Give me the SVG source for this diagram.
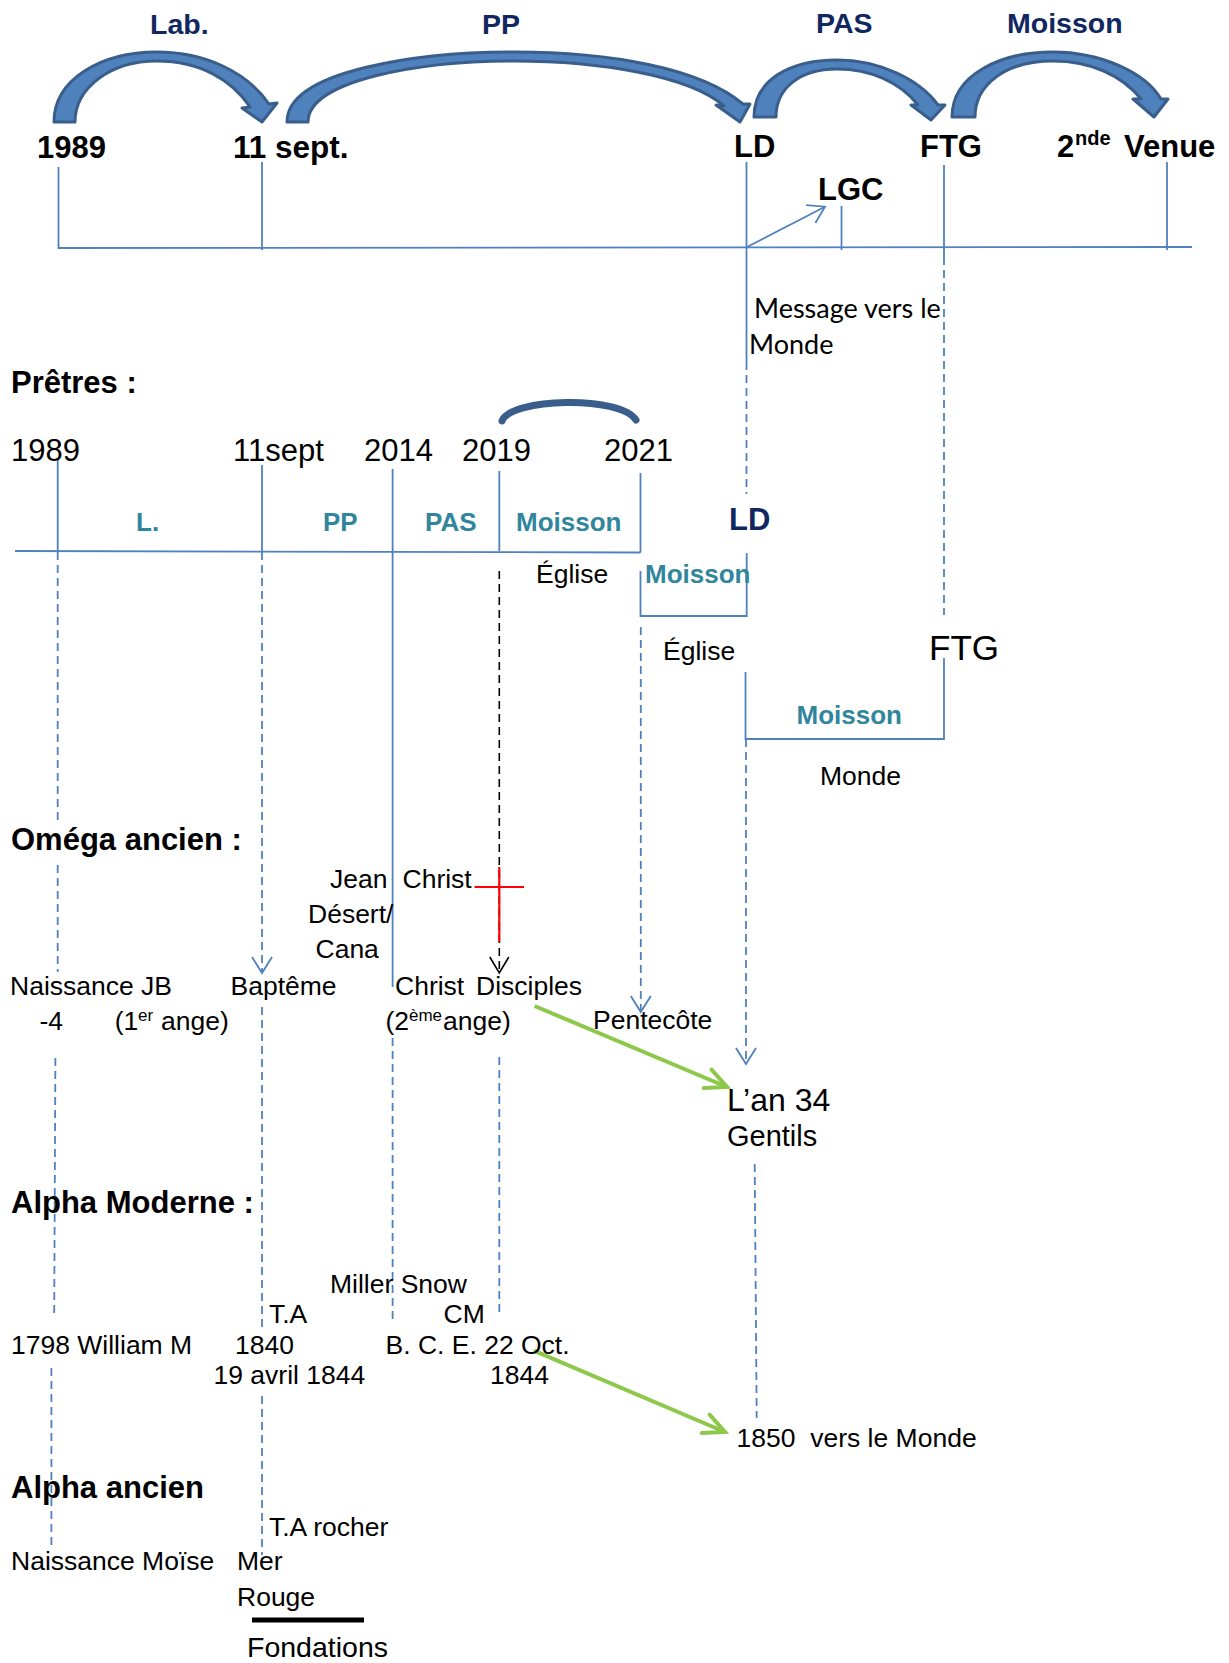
<svg xmlns="http://www.w3.org/2000/svg" width="1229" height="1663" viewBox="0 0 1229 1663">
<style>
text{font-family:"Liberation Sans",Arial,sans-serif;fill:#000;font-size:26.5px}
.h{font-weight:bold;font-size:31px}
.nv{fill:#10285F;font-weight:bold;font-size:28.5px}
.tl{fill:#31859C;font-weight:bold;font-size:26px}
.yr{font-size:31px}
.big{font-size:35px}
.sup{font-size:17px}
.cal{font-family:Lato,"Open Sans",sans-serif;font-size:27px}
.ax{stroke:#4F81BD;stroke-width:1.8;fill:none}
.ds{stroke:#4F81BD;stroke-width:1.8;fill:none;stroke-dasharray:8 5}
.kd{stroke:#000;stroke-width:1.6;fill:none;stroke-dasharray:8 5}
.ba{fill:#4F81BD;stroke:#3A5E8C;stroke-width:3;stroke-linejoin:round}
.gr{stroke:#8DC84A;stroke-width:4;fill:none}
</style>
<defs>
<marker id="vb" markerUnits="userSpaceOnUse" viewBox="-20 -12 22 24" refX="0" refY="0" markerWidth="22" markerHeight="24" orient="auto"><path d="M-16,-10 L0,0 L-16,10" fill="none" stroke="#4F81BD" stroke-width="1.8" stroke-dasharray="none"/></marker>
<marker id="vk" markerUnits="userSpaceOnUse" viewBox="-20 -12 22 24" refX="0" refY="0" markerWidth="22" markerHeight="24" orient="auto"><path d="M-16,-9.5 L0,0 L-16,9.5" fill="none" stroke="#000" stroke-width="1.6" stroke-dasharray="none"/></marker>
<marker id="vg" markerUnits="userSpaceOnUse" viewBox="-26 -14 30 28" refX="0" refY="0" markerWidth="30" markerHeight="28" orient="auto"><path d="M-21,-10 L0,0 L-21,10" fill="none" stroke="#8DC84A" stroke-width="4" stroke-linecap="round"/></marker>
</defs>

<g id="block-arrows">
<path class="ba" d="M54,122 C54,80 100,52 157,52 C205,52 247,72 269,104 L277,103 L262,122 L242,108 L250,107 C232,80 200,61 157,61 C110,61 75,88 75,122 Z"/>
<path class="ba" d="M287,122 C287,70 420,52 514,52 C610,52 700,68 743,104 L750,104 L740,122 L716,105 L724,106 C690,76 600,61 514,61 C420,61 308,80 308,122 Z"/>
<path class="ba" d="M754,117 C754,80 790,60 837,60 C880,60 920,80 938,105 L945,105 L931,120 L911,105 L918,105 C900,82 870,69 837,69 C800,69 776,88 776,117 Z"/>
<path class="ba" d="M952,117 C952,75 1000,52 1053,52 C1100,52 1145,72 1161,99 L1168,99 L1154,117 L1133,99 L1141,99 C1122,75 1090,61 1053,61 C1005,61 975,85 975,117 Z"/>
<path d="M502,421 C510,398 620,395 636,420" fill="none" stroke="#3A5E8C" stroke-width="7" stroke-linecap="round"/>
</g>

<g id="connectors">
<path class="ax" d="M58.5,167 V248 L1192,247"/>
<line class="ax" x1="262" y1="162" x2="262" y2="250"/>
<line class="ax" x1="746.5" y1="162" x2="746.5" y2="362"/>
<line class="ds" x1="746.5" y1="362" x2="746.5" y2="494"/>
<line class="ax" x1="841.5" y1="206" x2="841.5" y2="250"/>
<line class="ax" x1="944" y1="165" x2="944" y2="257"/>
<line class="ds" x1="944" y1="257" x2="944" y2="615"/>
<line class="ax" x1="1167" y1="162" x2="1167" y2="250"/>
<line class="ax" x1="746.5" y1="247.3" x2="825" y2="206.7" marker-end="url(#vb)"/>
<line class="ax" x1="15" y1="551" x2="640.5" y2="552.5"/>
<line class="ax" x1="57.7" y1="458" x2="57.7" y2="552"/>
<line class="ax" x1="262" y1="465" x2="262" y2="552"/>
<line class="ax" x1="392.6" y1="469" x2="392.6" y2="987"/>
<line class="ax" x1="499.3" y1="471" x2="499.3" y2="551"/>
<line class="ax" x1="640.5" y1="473" x2="640.5" y2="552.5"/>
<path class="ax" d="M640.5,571 V616 H746.7 V553"/>
<path class="ax" d="M745.5,672 V739 H944 V658"/>
<line class="ds" x1="57.7" y1="552" x2="57.7" y2="822"/>
<line class="ds" x1="57.7" y1="865" x2="57.7" y2="972"/>
<line class="ds" x1="55.4" y1="1058" x2="54.2" y2="1313"/>
<line class="ds" x1="51.4" y1="1368" x2="51.4" y2="1550"/>
<line class="ds" x1="262" y1="552" x2="262" y2="973" marker-end="url(#vb)"/>
<line class="ds" x1="262" y1="1007" x2="262" y2="1327"/>
<line class="ds" x1="262" y1="1396" x2="262" y2="1555"/>
<line class="ds" x1="392.6" y1="1038" x2="392.6" y2="1320"/>
<line class="kd" x1="499.3" y1="571" x2="499.3" y2="973" marker-end="url(#vk)"/>
<line class="ds" x1="499.3" y1="1057" x2="499.3" y2="1317"/>
<line class="ds" x1="640.8" y1="627" x2="640.8" y2="1012" marker-end="url(#vb)"/>
<line class="ds" x1="746" y1="739" x2="746" y2="1064" marker-end="url(#vb)"/>
<line class="ds" x1="754.7" y1="1164" x2="756.7" y2="1418"/>
<line x1="499.3" y1="867" x2="499.3" y2="942" stroke="#FF0000" stroke-width="2.2"/>
<line x1="474.5" y1="887" x2="524" y2="887" stroke="#FF0000" stroke-width="2.2"/>
<line class="gr" x1="534.6" y1="1006" x2="727" y2="1087" marker-end="url(#vg)"/>
<line class="gr" x1="533.8" y1="1350.7" x2="725" y2="1432" marker-end="url(#vg)"/>
<line x1="252" y1="1620" x2="364" y2="1620" stroke="#000" stroke-width="5"/>
</g>

<g id="top-labels">
<text class="nv" x="150" y="34">Lab.</text>
<text class="nv" x="482" y="34">PP</text>
<text class="nv" x="816" y="33">PAS</text>
<text class="nv" x="1007" y="33">Moisson</text>
<text class="h" x="37" y="158">1989</text>
<text class="h" x="233" y="158" style="font-size:31.5px">11 sept.</text>
<text class="h" x="734" y="157">LD</text>
<text class="h" x="920" y="157">FTG</text>
<text class="h" x="1057" y="157">2</text>
<text class="h" x="1075" y="145" style="font-size:20px">nde</text>
<text class="h" x="1124" y="157">Venue</text>
<text class="h" x="818" y="200">LGC</text>
<text class="cal" x="754" y="318">Message vers le</text>
<text class="cal" x="749" y="354">Monde</text>
</g>

<g id="pretres">
<text class="h" x="11" y="393">Prêtres :</text>
<text class="yr" x="11" y="461">1989</text>
<text class="yr" x="233" y="461">11sept</text>
<text class="yr" x="364" y="461">2014</text>
<text class="yr" x="462" y="461">2019</text>
<text class="yr" x="604" y="461">2021</text>
<text class="tl" x="136" y="531">L.</text>
<text class="tl" x="323" y="531">PP</text>
<text class="tl" x="425" y="531">PAS</text>
<text class="tl" x="516" y="531">Moisson</text>
<text class="nv" x="729" y="530" style="font-size:31px">LD</text>
<text x="536" y="583">Église</text>
<text class="tl" x="645" y="583">Moisson</text>
<text x="663" y="660">Église</text>
<text class="big" x="929" y="660">FTG</text>
<text class="tl" x="796.5" y="724">Moisson</text>
<text x="820" y="785">Monde</text>
</g>

<g id="omega-ancien">
<text class="h" x="11" y="850">Oméga ancien :</text>
<text x="330" y="888">Jean</text>
<text x="402.5" y="888">Christ</text>
<text x="308" y="923">Désert/</text>
<text x="315.5" y="958">Cana</text>
<text x="10" y="995">Naissance JB</text>
<text x="230.5" y="995">Baptême</text>
<text x="395" y="995">Christ</text>
<text x="476" y="995">Disciples</text>
<text x="39.5" y="1030">-4</text>
<text x="114.7" y="1030">(1</text>
<text class="sup" x="138" y="1021">er</text>
<text x="161" y="1030">ange)</text>
<text x="385.5" y="1030">(2</text>
<text class="sup" x="409" y="1021">ème</text>
<text x="443" y="1030">ange)</text>
<text x="593" y="1029">Pentecôte</text>
<text x="727" y="1111" style="font-size:32px">L’an 34</text>
<text x="727" y="1146" style="font-size:29px">Gentils</text>
</g>

<g id="alpha-moderne">
<text class="h" x="11" y="1213">Alpha Moderne :</text>
<text x="330" y="1293">Miller Snow</text>
<text x="269" y="1323">T.A</text>
<text x="443.6" y="1323">CM</text>
<text x="11" y="1354">1798 William M</text>
<text x="235" y="1354">1840</text>
<text x="385.5" y="1354">B. C. E. 22 Oct.</text>
<text x="213.5" y="1384">19 avril 1844</text>
<text x="490" y="1384">1844</text>
<text x="736.5" y="1447">1850&#160; vers le Monde</text>
</g>

<g id="alpha-ancien">
<text class="h" x="11" y="1498">Alpha ancien</text>
<text x="269" y="1536">T.A rocher</text>
<text x="11" y="1570">Naissance Moïse</text>
<text x="237" y="1570">Mer</text>
<text x="237" y="1606">Rouge</text>
<text x="247" y="1657" style="font-size:28.5px">Fondations</text>
</g>
</svg>
